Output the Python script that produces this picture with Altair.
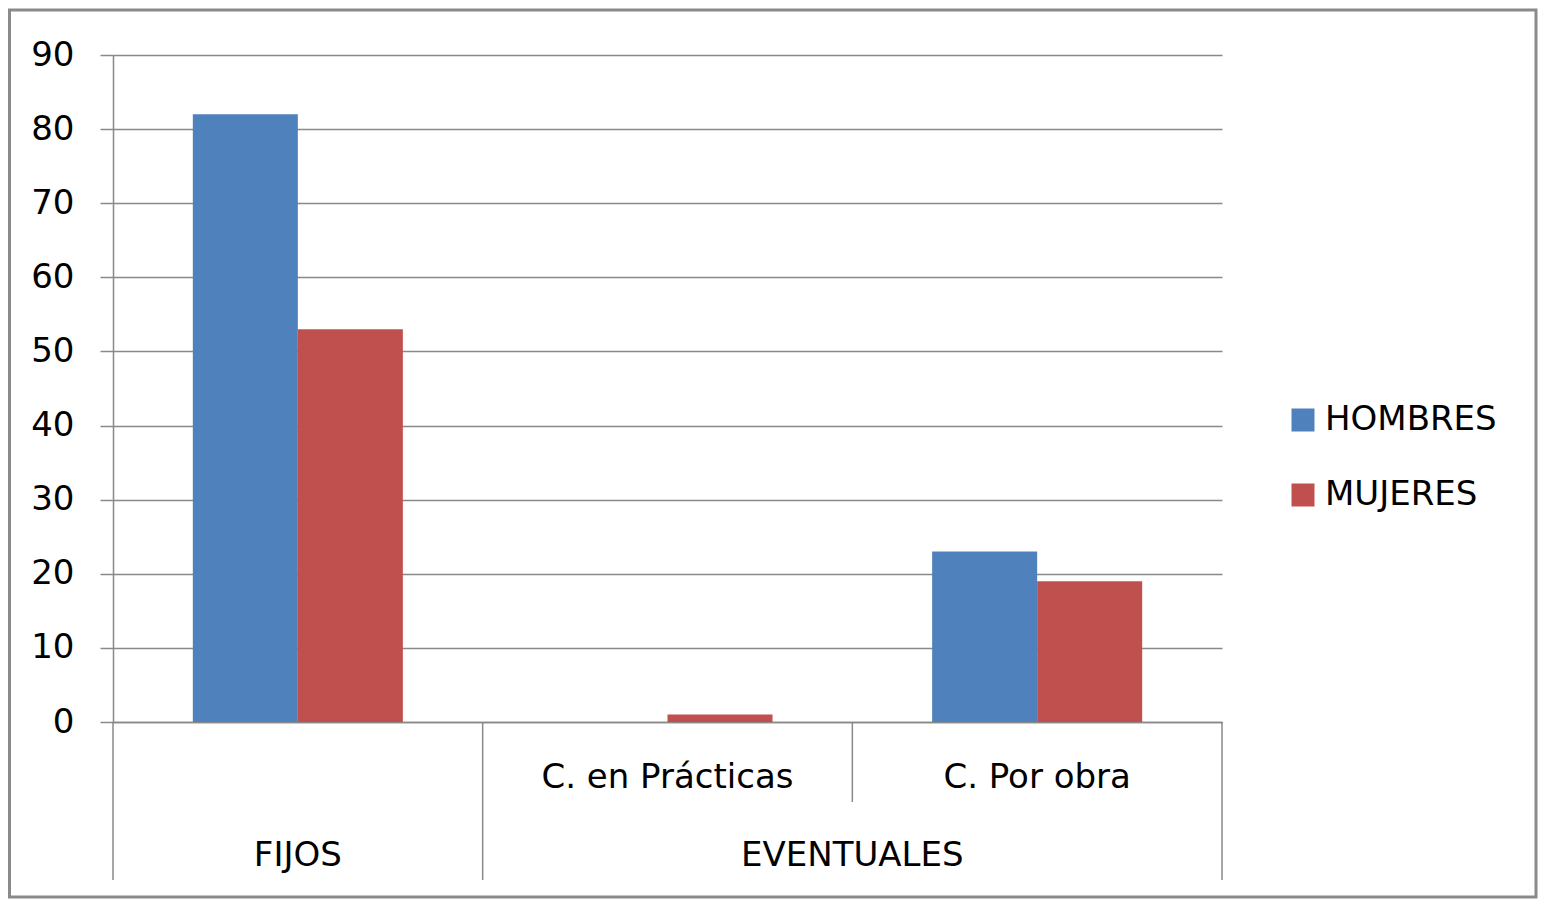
import altair as alt
import pandas as pd

# data
categories = ["FIJOS", "C. en Prácticas", "C. Por obra"]
groups = ["FIJOS", "EVENTUALES", "EVENTUALES"]
series = ["HOMBRES", "MUJERES"]
hombres = [82, 0, 23]
mujeres = [53, 1, 19]
y_ticks = list(range(0, 91, 10))

FONT = "DejaVu Sans"
GRAY = "#898989"
COLORS = ["#4F81BD", "#C0504D"]

W, H = 1109, 667

bars_df = pd.DataFrame(
    {
        "cat": categories * 2,
        "serie": [series[0]] * 3 + [series[1]] * 3,
        "valor": hombres + mujeres,
    }
)
group_df = pd.DataFrame({"cat": categories, "grupo": groups})
frame_df = pd.DataFrame({"k": [0]})

x_scale = alt.Scale(domain=categories, paddingInner=0, paddingOuter=0)
x_axis = alt.Axis(
    labelExpr="datum.label == 'FIJOS' ? '' : datum.label",
    labelAngle=0,
    labelFont=FONT,
    labelFontSize=34,
    labelColor="#000",
    labelBaseline="middle",
    labelPadding=55,
    labelLimit=400,
    labelOverlap=False,
    ticks=False,
    domainColor=GRAY,
    domainWidth=1.5,
    grid=False,
    title=None,
)


def x_cat(band_pos=None):
    if band_pos is None:
        return alt.X("cat:N", sort=categories, scale=x_scale, axis=x_axis)
    return alt.X("cat:N", sort=categories, scale=x_scale, axis=x_axis, bandPosition=band_pos)


bars = (
    alt.Chart(bars_df)
    .mark_bar()
    .encode(
        x=x_cat(),
        xOffset=alt.XOffset(
            "serie:N", sort=series, scale=alt.Scale(paddingInner=0, paddingOuter=0.76)
        ),
        y=alt.Y(
            "valor:Q",
            title=None,
            scale=alt.Scale(domain=[0, 90], nice=False),
            axis=alt.Axis(
                values=y_ticks,
                labelFont=FONT,
                labelFontSize=34,
                labelColor="#000",
                labelPadding=26,
                tickSize=13,
                tickColor=GRAY,
                tickWidth=1.5,
                domainColor=GRAY,
                domainWidth=1.5,
                gridColor=GRAY,
                gridWidth=1.5,
            ),
        ),
        color=alt.Color(
            "serie:N",
            sort=series,
            scale=alt.Scale(domain=series, range=COLORS),
            legend=alt.Legend(
                orient="none",
                legendX=1173,
                legendY=348,
                title=None,
                symbolType="square",
                symbolSize=529,
                symbolStrokeWidth=0,
                labelFont=FONT,
                labelFontSize=34,
                labelColor="#000",
                labelOffset=5,
                labelLimit=400,
                rowPadding=41,
            ),
        ),
    )
)

# separators of the two-level category axis
sep_start = (
    alt.Chart(group_df)
    .mark_rule(color=GRAY, strokeWidth=1.5)
    .transform_filter("datum.cat != 'C. Por obra'")
    .encode(x=x_cat(0), y=alt.value(H), y2=alt.value(H + 158))
)
sep_end = (
    alt.Chart(group_df)
    .mark_rule(color=GRAY, strokeWidth=1.5)
    .transform_filter("datum.cat == 'C. Por obra'")
    .encode(x=x_cat(1), y=alt.value(H), y2=alt.value(H + 158))
)
sep_short = (
    alt.Chart(group_df)
    .mark_rule(color=GRAY, strokeWidth=1.5)
    .transform_filter("datum.cat == 'C. Por obra'")
    .encode(x=x_cat(0), y=alt.value(H), y2=alt.value(H + 80))
)

text_style = dict(font=FONT, fontSize=34, color="#000", baseline="middle", align="center")
label_fijos = (
    alt.Chart(group_df)
    .mark_text(**text_style)
    .transform_filter("datum.cat == 'FIJOS'")
    .encode(x=x_cat(0.5), y=alt.value(H + 134), text="grupo:N")
)
label_event = (
    alt.Chart(group_df)
    .mark_text(**text_style)
    .transform_filter("datum.cat == 'C. Por obra'")
    .encode(x=x_cat(0), y=alt.value(H + 134), text="grupo:N")
)

frame = (
    alt.Chart(frame_df)
    .mark_rect(fill=None, stroke="#8a8a8a", strokeWidth=3)
    .encode(
        x=alt.value(-103.5),
        x2=alt.value(W + 314),
        y=alt.value(-45),
        y2=alt.value(H + 175),
    )
)

chart = (
    alt.layer(bars, sep_start, sep_end, sep_short, label_fijos, label_event, frame)
    .properties(
        width=W,
        height=H,
        padding={"left": 105, "top": 47, "right": 316, "bottom": 177},
        autosize=alt.AutoSizeParams(type="none"),
    )
    .configure_view(stroke=None)
)

chart.save("out.html", embed_options={"renderer": "svg", "actions": False})
